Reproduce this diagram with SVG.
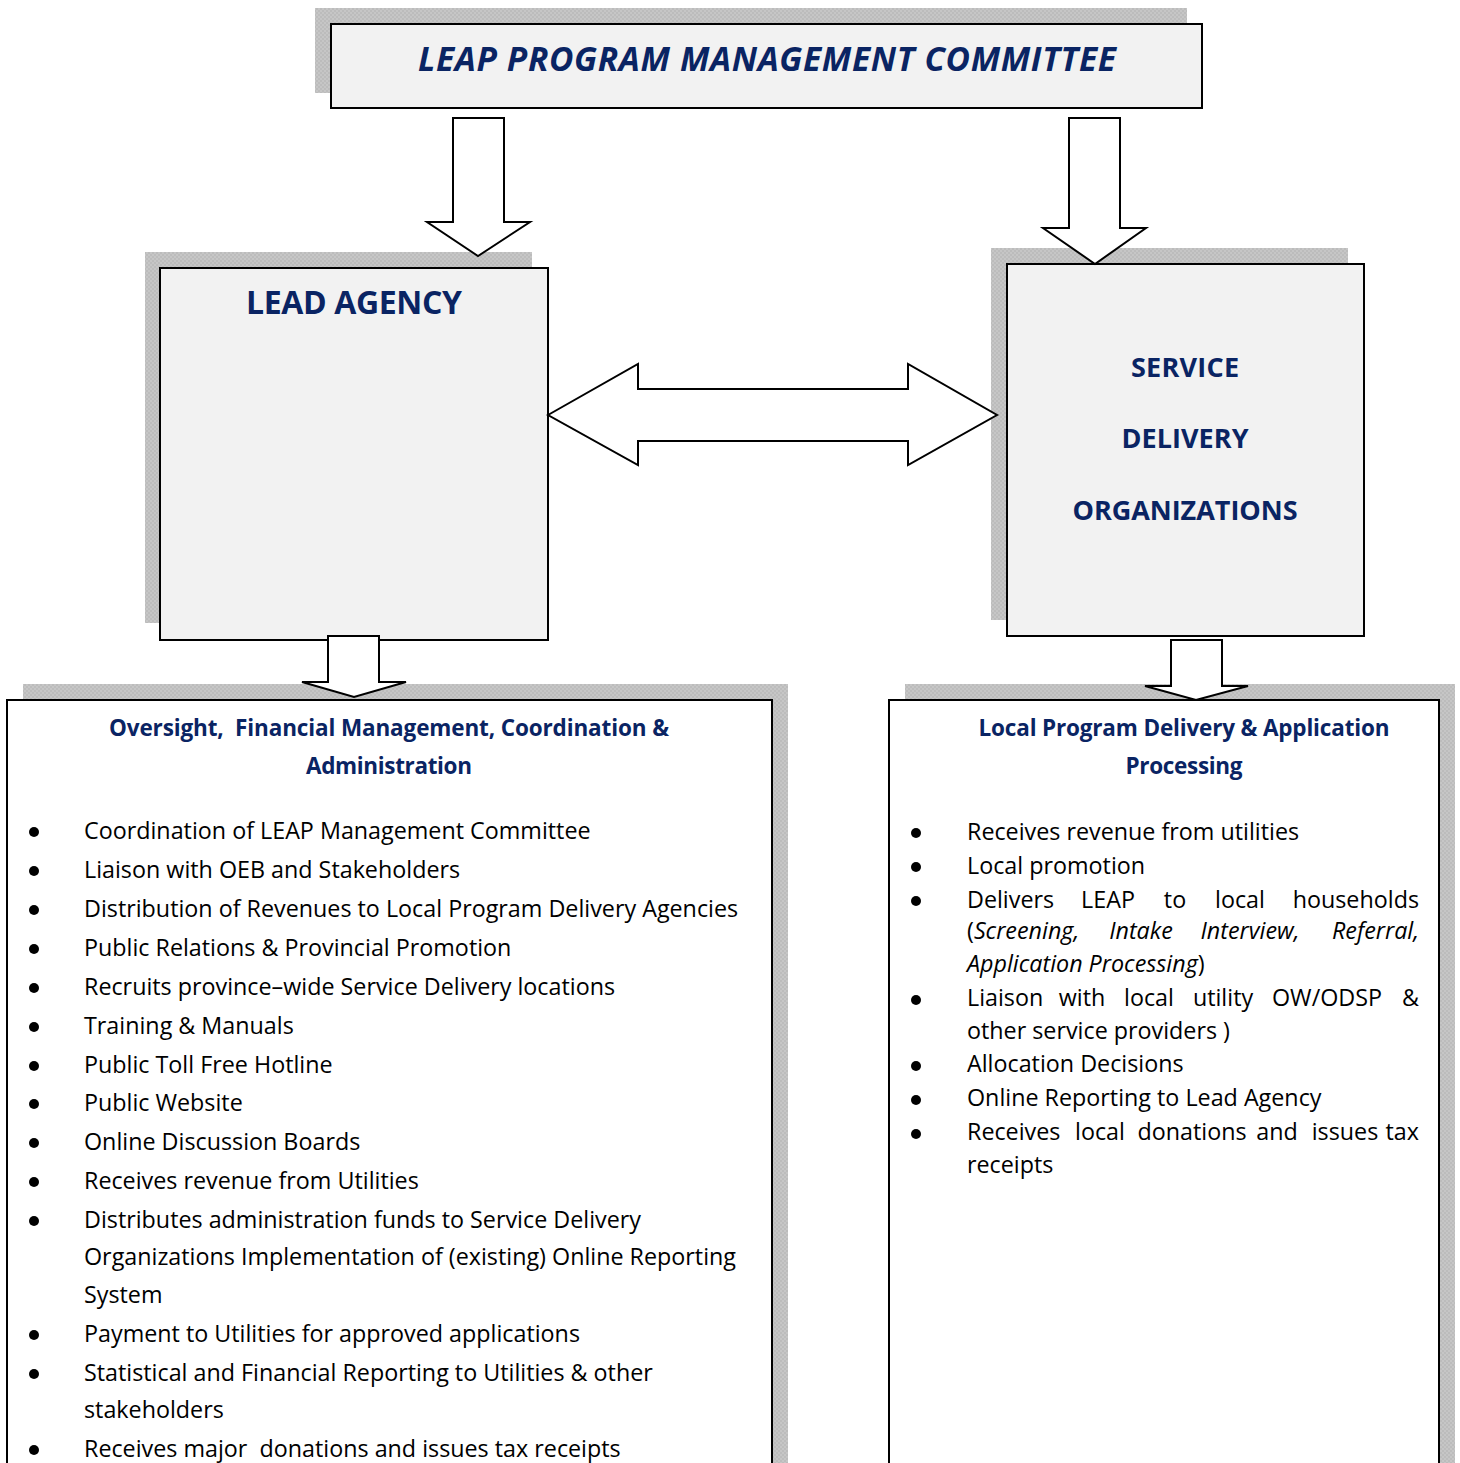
<svg xmlns="http://www.w3.org/2000/svg" width="1460" height="1463" viewBox="0 0 1460 1463">
  <defs>
    <!-- fine checker used for the drop shadows -->
    <pattern id="shade" width="4" height="4" patternUnits="userSpaceOnUse">
      <rect width="4" height="4" fill="#c6c6c6"/>
      <rect width="2" height="2" fill="#bcbcbc"/>
      <rect x="2" y="2" width="2" height="2" fill="#bcbcbc"/>
    </pattern>
  </defs>
  <style>
    .shadow { fill: url(#shade); }
    .box { fill: #f2f2f2; stroke: #000; stroke-width: 2; }
    .panel { fill: #ffffff; stroke: #000; stroke-width: 2; }
    .arrow { fill: #ffffff; stroke: #000; stroke-width: 2; stroke-linejoin: miter; }
    .head { font-family: "Open Sans", "Liberation Sans", sans-serif; font-weight: bold; fill: #0a2463; }
    .body { font-family: "Open Sans", "Liberation Sans", sans-serif; font-size: 23.3px; fill: #000; }
    .it { font-style: italic; }
    .dot { fill: #000; }
    .mid { text-anchor: middle; }
    .end { text-anchor: end; }
  </style>
  <rect width="1460" height="1463" fill="#ffffff"/>

  <!-- committee -->
  <g id="committee">
    <rect class="shadow" x="315" y="8" width="872" height="85"/>
    <rect class="box" x="331" y="24" width="871" height="84"/>
    <text class="head it" x="767" y="71" font-size="33.5" text-anchor="middle" textLength="698" lengthAdjust="spacing">LEAP PROGRAM MANAGEMENT COMMITTEE</text>
  </g>

  <!-- lead agency -->
  <g id="lead-agency">
    <rect class="shadow" x="145" y="252" width="387" height="371"/>
    <rect class="box" x="160" y="268" width="388" height="372"/>
    <text class="head" x="354" y="314" font-size="32" text-anchor="middle" textLength="216" lengthAdjust="spacing">LEAD AGENCY</text>
  </g>

  <!-- service delivery organizations -->
  <g id="service-delivery">
    <rect class="shadow" x="991" y="248" width="357" height="372"/>
    <rect class="box" x="1007" y="264" width="357" height="372"/>
    <text class="head" x="1185" y="377" font-size="27" text-anchor="middle" textLength="108" lengthAdjust="spacing">SERVICE</text>
    <text class="head" x="1185" y="448" font-size="27" text-anchor="middle" textLength="127" lengthAdjust="spacing">DELIVERY</text>
    <text class="head" x="1185" y="520" font-size="27" text-anchor="middle" textLength="225" lengthAdjust="spacing">ORGANIZATIONS</text>
  </g>

  <!-- lead agency responsibilities -->
  <g id="lead-agency-duties">
    <rect class="shadow" x="23" y="684" width="765" height="790"/>
    <rect class="panel" x="7" y="700" width="765" height="790"/>
    <text class="head" x="389" y="736" font-size="22.5" text-anchor="middle" textLength="560" lengthAdjust="spacing" xml:space="preserve">Oversight,  Financial Management, Coordination &amp;</text>
    <text class="head" x="389" y="774" font-size="22.5" text-anchor="middle" textLength="166" lengthAdjust="spacing">Administration</text>
    <g class="dot">
      <circle cx="34" cy="832" r="5"/>
      <circle cx="34" cy="871" r="5"/>
      <circle cx="34" cy="910" r="5"/>
      <circle cx="34" cy="949" r="5"/>
      <circle cx="34" cy="988" r="5"/>
      <circle cx="34" cy="1027" r="5"/>
      <circle cx="34" cy="1066" r="5"/>
      <circle cx="34" cy="1104" r="5"/>
      <circle cx="34" cy="1143" r="5"/>
      <circle cx="34" cy="1182" r="5"/>
      <circle cx="34" cy="1221" r="5"/>
      <circle cx="34" cy="1335" r="5"/>
      <circle cx="34" cy="1374" r="5"/>
      <circle cx="34" cy="1450" r="5"/>
    </g>
    <g class="body">
      <text x="84" y="839">Coordination of LEAP Management Committee</text>
      <text x="84" y="878">Liaison with OEB and Stakeholders</text>
      <text x="84" y="917">Distribution of Revenues to Local Program Delivery Agencies</text>
      <text x="84" y="956">Public Relations &amp; Provincial Promotion</text>
      <text x="84" y="995">Recruits province–wide Service Delivery locations</text>
      <text x="84" y="1034">Training &amp; Manuals</text>
      <text x="84" y="1073">Public Toll Free Hotline</text>
      <text x="84" y="1111">Public Website</text>
      <text x="84" y="1150">Online Discussion Boards</text>
      <text x="84" y="1189">Receives revenue from Utilities</text>
      <text x="84" y="1228">Distributes administration funds to Service Delivery</text>
      <text x="84" y="1265">Organizations Implementation of (existing) Online Reporting</text>
      <text x="84" y="1303">System</text>
      <text x="84" y="1342">Payment to Utilities for approved applications</text>
      <text x="84" y="1381">Statistical and Financial Reporting to Utilities &amp; other</text>
      <text x="84" y="1418">stakeholders</text>
      <text x="84" y="1457" xml:space="preserve">Receives major  donations and issues tax receipts</text>
    </g>
  </g>

  <!-- service delivery responsibilities -->
  <g id="service-delivery-duties">
    <rect class="shadow" x="905" y="684" width="550" height="790"/>
    <rect class="panel" x="889" y="700" width="550" height="790"/>
    <text class="head" x="1184" y="736" font-size="22.5" text-anchor="middle" textLength="411" lengthAdjust="spacing">Local Program Delivery &amp; Application</text>
    <text class="head" x="1184" y="774" font-size="22.5" text-anchor="middle" textLength="117" lengthAdjust="spacing">Processing</text>
    <g class="dot">
      <circle cx="916" cy="833" r="5"/>
      <circle cx="916" cy="867" r="5"/>
      <circle cx="916" cy="901" r="5"/>
      <circle cx="916" cy="1000" r="5"/>
      <circle cx="916" cy="1066" r="5"/>
      <circle cx="916" cy="1100" r="5"/>
      <circle cx="916" cy="1134" r="5"/>
    </g>
    <g class="body">
      <text x="967" y="840">Receives revenue from utilities</text>
      <text x="967" y="874">Local promotion</text>
      <!-- justified lines: words placed one by one -->
      <text y="908"><tspan x="967">Delivers</tspan><tspan class="mid" x="1108">LEAP</tspan><tspan class="mid" x="1175">to</tspan><tspan class="mid" x="1240">local</tspan><tspan class="end" x="1419">households</tspan></text>
      <text y="939"><tspan x="967">(</tspan><tspan class="it">Screening,</tspan><tspan class="it mid" x="1141">Intake</tspan><tspan class="it mid" x="1250">Interview,</tspan><tspan class="it end" x="1419">Referral,</tspan></text>
      <text x="967" y="972"><tspan class="it">Application Processing</tspan>)</text>
      <text y="1006"><tspan x="967">Liaison</tspan><tspan class="mid" x="1082">with</tspan><tspan class="mid" x="1149">local</tspan><tspan class="mid" x="1223">utility</tspan><tspan class="mid" x="1327">OW/ODSP</tspan><tspan class="end" x="1419">&amp;</tspan></text>
      <text x="967" y="1039">other service providers )</text>
      <text x="967" y="1072">Allocation Decisions</text>
      <text x="967" y="1106">Online Reporting to Lead Agency</text>
      <text y="1140"><tspan x="967">Receives</tspan><tspan class="mid" x="1100">local</tspan><tspan class="mid" x="1192">donations</tspan><tspan class="mid" x="1277">and</tspan><tspan class="mid" x="1345">issues</tspan><tspan class="end" x="1419">tax</tspan></text>
      <text x="967" y="1173">receipts</text>
    </g>
  </g>

  <!-- block arrows between the boxes -->
  <g id="connectors">
    <polygon class="arrow" points="453,118 504,118 504,222 530,222 478,256 427,222 453,222"/>
    <polygon class="arrow" points="1069,118 1120,118 1120,228 1146,228 1095,264 1043,228 1069,228"/>
    <polygon class="arrow" points="548,415 638,364 638,389 908,389 908,364 997,415 908,465 908,441 638,441 638,465"/>
    <polygon class="arrow" points="328,636 379,636 379,682 406,682 354,697 302,682 328,682"/>
    <polygon class="arrow" points="1171,640 1222,640 1222,686 1248,686 1196,700 1145,686 1171,686"/>
  </g>
</svg>
